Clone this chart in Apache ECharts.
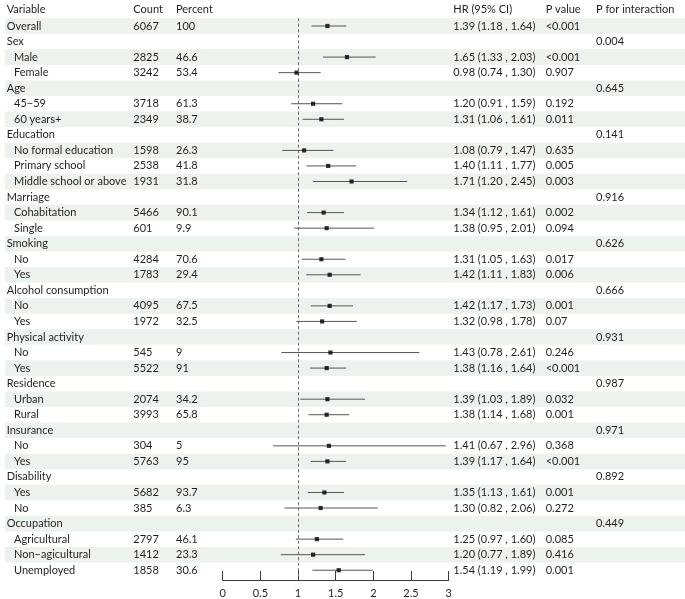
<!DOCTYPE html>
<html><head><meta charset="utf-8">
<script src="https://cdn.jsdelivr.net/npm/echarts@6/dist/echarts.min.js"></script>
<style>html,body{margin:0;padding:0;background:#fff}#c{width:685px;height:599px}</style>
</head><body><div id="c"></div>
<script>
const headers = ['Variable', 'Count', 'Percent', 'HR (95% CI)', 'P value', 'P for interaction'];
const variables = ['Overall', 'Sex', 'Male', 'Female', 'Age', '45\u221259', '60 years+', 'Education',
  'No formal education', 'Primary school', 'Middle school or above', 'Marriage', 'Cohabitation', 'Single',
  'Smoking', 'No', 'Yes', 'Alcohol consumption', 'No', 'Yes', 'Physical activity', 'No', 'Yes',
  'Residence', 'Urban', 'Rural', 'Insurance', 'No', 'Yes', 'Disability', 'Yes', 'No',
  'Occupation', 'Agricultural', 'Non\u2212agicultural', 'Unemployed'];
const isGroup = [1, 1, 0, 0, 1, 0, 0, 1, 0, 0, 0, 1, 0, 0, 1, 0, 0, 1, 0, 0, 1, 0, 0, 1, 0, 0, 1, 0, 0, 1, 0, 0, 1, 0, 0, 0];
const counts = ['6067', '', '2825', '3242', '', '3718', '2349', '', '1598', '2538', '1931', '', '5466', '601',
  '', '4284', '1783', '', '4095', '1972', '', '545', '5522', '', '2074', '3993', '', '304', '5763', '', '5682', '385',
  '', '2797', '1412', '1858'];
const percents = ['100', '', '46.6', '53.4', '', '61.3', '38.7', '', '26.3', '41.8', '31.8', '', '90.1', '9.9',
  '', '70.6', '29.4', '', '67.5', '32.5', '', '9', '91', '', '34.2', '65.8', '', '5', '95', '', '93.7', '6.3',
  '', '46.1', '23.3', '30.6'];
const hr = [1.39, null, 1.65, 0.98, null, 1.20, 1.31, null, 1.08, 1.40, 1.71, null, 1.34, 1.38, null, 1.31, 1.42,
  null, 1.42, 1.32, null, 1.43, 1.38, null, 1.39, 1.38, null, 1.41, 1.39, null, 1.35, 1.30, null, 1.25, 1.20, 1.54];
const lower = [1.18, null, 1.33, 0.74, null, 0.91, 1.06, null, 0.79, 1.11, 1.20, null, 1.12, 0.95, null, 1.05, 1.11,
  null, 1.17, 0.98, null, 0.78, 1.16, null, 1.03, 1.14, null, 0.67, 1.17, null, 1.13, 0.82, null, 0.97, 0.77, 1.19];
const upper = [1.64, null, 2.03, 1.30, null, 1.59, 1.61, null, 1.47, 1.77, 2.45, null, 1.61, 2.01, null, 1.63, 1.83,
  null, 1.73, 1.78, null, 2.61, 1.64, null, 1.89, 1.68, null, 2.96, 1.64, null, 1.61, 2.06, null, 1.60, 1.89, 1.99];
const pValues = ['<0.001', '', '<0.001', '0.907', '', '0.192', '0.011', '', '0.635', '0.005', '0.003', '', '0.002', '0.094',
  '', '0.017', '0.006', '', '0.001', '0.07', '', '0.246', '<0.001', '', '0.032', '0.001', '', '0.368', '<0.001', '', '0.001', '0.272',
  '', '0.085', '0.416', '0.001'];
const pInteraction = ['', '0.004', '', '', '0.645', '', '', '0.141', '', '', '', '0.916', '', '', '0.626', '', '',
  '0.666', '', '', '0.931', '', '', '0.987', '', '', '0.971', '', '', '0.892', '', '', '0.449', '', '', ''];
const xTicks = [0, 0.5, 1, 1.5, 2, 2.5, 3];
const refValue = 1;

// layout
const ROW = 15.55, FIRST = 26, H = 599;
const N = variables.length;
const EXTRA = 2;
const plotTop = FIRST - 0.5 * ROW, plotH = N * ROW + EXTRA;
const fullMin = -1.6, fullTop = FIRST + fullMin * ROW, fullH = (N - 0.5 - fullMin) * ROW;
const headerRow = -1.06;
const colX = {variable: 6.7, sub: 14, count: 133.3, percent: 176, hr: 453.3, p: 545.7, pint: 596};
const FONT = '11px Lato';
const TXT = '#231f20';

const fmt = v => v.toFixed(2);
const hrText = i => hr[i] == null ? '' : fmt(hr[i]) + ' (' + fmt(lower[i]) + ' , ' + fmt(upper[i]) + ')';

const chart = echarts.init(document.getElementById('c'), null, {renderer: 'canvas'});

function txt(x, y, s) {
  return {type: 'text', style: {x: x, y: y, text: s, font: FONT, fill: TXT, textAlign: 'left', textVerticalAlign: 'middle'}};
}

const option = {
  animation: false,
  backgroundColor: '#ffffff',
  grid: [
    {left: 222.7, right: 685 - 448.7, top: plotTop, height: plotH},
    {left: 0, right: 0, top: fullTop, height: fullH}
  ],
  xAxis: [
    {gridIndex: 0, type: 'value', min: xTicks[0], max: xTicks[xTicks.length - 1], interval: xTicks[1] - xTicks[0],
      position: 'bottom',
      axisLine: {show: true, onZero: false, lineStyle: {color: '#3a3a3a', width: 1}},
      axisTick: {show: true, inside: true, length: 9, lineStyle: {color: '#3a3a3a'}},
      axisLabel: {fontSize: 11, fontFamily: 'Lato', color: TXT, margin: 8},
      splitLine: {show: false}},
    {gridIndex: 1, type: 'value', min: 0, max: 685, show: false}
  ],
  yAxis: [
    {gridIndex: 0, type: 'value', min: -0.5, max: N - 0.5 + EXTRA / ROW, inverse: true, show: false},
    {gridIndex: 1, type: 'value', min: fullMin, max: N - 0.5, inverse: true, show: false}
  ],
  series: [
    {
      type: 'custom', xAxisIndex: 1, yAxisIndex: 1, z: 1, silent: true, clip: false,
      data: variables.map((v, i) => [i]).filter(d => d[0] % 2 === 0),
      renderItem: function (params, api) {
        const r = api.value(0);
        const a = api.coord([5, r - 0.5]), b = api.coord([685, r + 0.5]);
        return {type: 'rect', shape: {x: a[0], y: Math.min(a[1], b[1]), width: b[0] - a[0], height: Math.abs(b[1] - a[1])},
          style: {fill: '#eef2ef'}};
      }
    },
    {
      type: 'custom', xAxisIndex: 1, yAxisIndex: 1, z: 5, silent: true, clip: false,
      data: variables.map((v, i) => [i]),
      renderItem: function (params, api) {
        const i = api.value(0);
        const y = api.coord([0, i])[1];
        const X = k => api.coord([k, i])[0];
        return {type: 'group', children: [
          txt(X(isGroup[i] ? colX.variable : colX.sub), y, variables[i]),
          txt(X(colX.count), y, counts[i]),
          txt(X(colX.percent), y, percents[i]),
          txt(X(colX.hr), y, hrText(i)),
          txt(X(colX.p), y, pValues[i]),
          txt(X(colX.pint), y, pInteraction[i])
        ]};
      }
    },
    {
      type: 'custom', xAxisIndex: 1, yAxisIndex: 1, z: 5, silent: true, clip: false,
      data: [[headerRow]],
      renderItem: function (params, api) {
        const r = api.value(0);
        const y = api.coord([0, r])[1];
        const X = k => api.coord([k, r])[0];
        const xs = [colX.variable, colX.count, colX.percent, colX.hr, colX.p, colX.pint];
        return {type: 'group', children: headers.map((h, k) => txt(X(xs[k]), y, h))};
      }
    },
    {
      type: 'custom', xAxisIndex: 0, yAxisIndex: 0, z: 6, silent: true, clip: false,
      data: variables.map((v, i) => [lower[i], upper[i], i]).filter(d => d[0] != null),
      renderItem: function (params, api) {
        const a = api.coord([api.value(0), api.value(2)]), b = api.coord([api.value(1), api.value(2)]);
        return {type: 'line', shape: {x1: a[0], y1: a[1], x2: b[0], y2: b[1]},
          style: {stroke: '#555555', lineWidth: 1}};
      }
    },
    {
      type: 'scatter', xAxisIndex: 0, yAxisIndex: 0, z: 7, silent: true,
      symbol: 'rect', symbolSize: 4.2,
      itemStyle: {color: '#000000'},
      data: variables.map((v, i) => [hr[i], i]).filter(d => d[0] != null),
      markLine: {
        silent: true, symbol: ['none', 'none'], label: {show: false},
        lineStyle: {color: '#6b6b6b', type: [3, 2.5], width: 1},
        data: [{xAxis: refValue}]
      }
    }
  ]
};
chart.setOption(option);
</script>
</body></html>
